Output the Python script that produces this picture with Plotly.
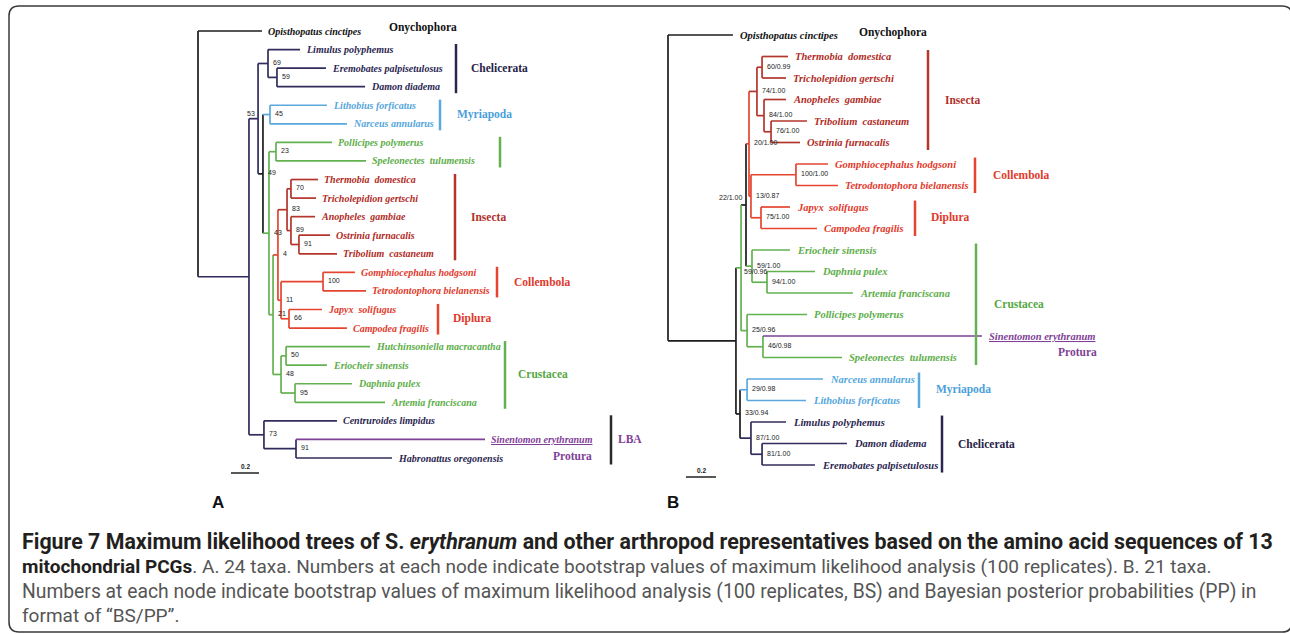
import plotly.graph_objects as go

W, H = 1290, 634

# ================= DATA =================
# ---- Tree A : 24 taxa, ML bootstrap ----
A_leaf_names = ["Opisthopatus cinctipes", "Limulus polyphemus", "Eremobates palpisetulosus", "Damon diadema",
                "Lithobius forficatus", "Narceus annularus", "Pollicipes polymerus", "Speleonectes  tulumensis",
                "Thermobia  domestica", "Tricholepidion gertschi", "Anopheles  gambiae", "Ostrinia furnacalis",
                "Tribolium  castaneum", "Gomphiocephalus hodgsoni", "Tetrodontophora bielanensis", "Japyx  solifugus",
                "Campodea fragilis", "Hutchinsoniella macracantha", "Eriocheir sinensis", "Daphnia pulex",
                "Artemia franciscana", "Centruroides limpidus", "Sinentomon erythranum", "Habronattus oregonensis"]
A_leaf_group = ["Onychophora", "Chelicerata", "Chelicerata", "Chelicerata", "Myriapoda", "Myriapoda",
                "Crustacea", "Crustacea", "Insecta", "Insecta", "Insecta", "Insecta", "Insecta",
                "Collembola", "Collembola", "Diplura", "Diplura", "Crustacea", "Crustacea", "Crustacea",
                "Crustacea", "Chelicerata", "Protura", "Chelicerata"]
# cumulative distance from root (substitutions/site)
A_leaf_depth = [0.457, 0.729, 0.914, 1.193, 0.921, 1.064, 0.957, 1.200, 0.857, 0.843, 0.836, 0.943,
                0.993, 1.121, 1.200, 0.886, 1.064, 1.229, 0.921, 1.100, 1.336, 0.993, 2.050, 1.386]

A_node_ids = ["a_root", "a_top", "a_53", "a_cheli", "a_cheli2", "a_49", "a_myr", "a_43", "a_polli", "a_21",
              "a_4", "a_ins", "a_ins1", "a_ins2", "a_ins3", "a_11", "a_coll", "a_dipl", "a_cr", "a_crA",
              "a_crB", "a_lba", "a_lba2"]
A_node_depth = [0.0, 0.364, 0.429, 0.500, 0.564, 0.464, 0.514, 0.507, 0.557, 0.536,
                0.571, 0.636, 0.664, 0.664, 0.721, 0.593, 0.893, 0.650, 0.593, 0.629,
                0.693, 0.471, 0.700]
A_node_children = [
    ["Opisthopatus cinctipes", "a_top"],
    ["a_53", "a_lba"],
    ["a_cheli", "a_49"],
    ["Limulus polyphemus", "a_cheli2"],
    ["Eremobates palpisetulosus", "Damon diadema"],
    ["a_myr", "a_43"],
    ["Lithobius forficatus", "Narceus annularus"],
    ["a_polli", "a_21"],
    ["Pollicipes polymerus", "Speleonectes  tulumensis"],
    ["a_4", "a_cr"],
    ["a_ins", "a_11"],
    ["a_ins1", "a_ins2"],
    ["Thermobia  domestica", "Tricholepidion gertschi"],
    ["Anopheles  gambiae", "a_ins3"],
    ["Ostrinia furnacalis", "Tribolium  castaneum"],
    ["a_coll", "a_dipl"],
    ["Gomphiocephalus hodgsoni", "Tetrodontophora bielanensis"],
    ["Japyx  solifugus", "Campodea fragilis"],
    ["a_crA", "a_crB"],
    ["Hutchinsoniella macracantha", "Eriocheir sinensis"],
    ["Daphnia pulex", "Artemia franciscana"],
    ["Centruroides limpidus", "a_lba2"],
    ["Sinentomon erythranum", "Habronattus oregonensis"],
]
A_node_support = ["", "", "53", "69", "59", "49", "45", "43", "23", "21", "4", "83", "70", "89", "91",
                  "11", "100", "66", "48", "50", "95", "73", "91"]
A_node_group = ["Backbone", "Chelicerata", "Chelicerata", "Chelicerata", "Chelicerata", "Backbone",
                "Myriapoda", "Crustacea", "Crustacea", "Crustacea", "Collembola", "Insecta", "Insecta",
                "Insecta", "Insecta", "Collembola", "Collembola", "Diplura", "Crustacea", "Crustacea",
                "Crustacea", "Chelicerata", "Chelicerata"]

A_clade_names = ["Chelicerata", "Myriapoda", "", "Insecta", "Collembola", "Diplura", "Crustacea", "LBA"]
A_clade_first = ["Limulus polyphemus", "Lithobius forficatus", "Pollicipes polymerus", "Thermobia  domestica",
                 "Gomphiocephalus hodgsoni", "Japyx  solifugus", "Hutchinsoniella macracantha",
                 "Centruroides limpidus"]
A_clade_last = ["Damon diadema", "Narceus annularus", "Speleonectes  tulumensis", "Tribolium  castaneum",
                "Tetrodontophora bielanensis", "Campodea fragilis", "Artemia franciscana",
                "Habronattus oregonensis"]

# ---- Tree B : 21 taxa, BS/PP ----
B_leaf_names = ["Opisthopatus cinctipes", "Thermobia  domestica", "Tricholepidion gertschi", "Anopheles  gambiae",
                "Tribolium  castaneum", "Ostrinia furnacalis", "Gomphiocephalus hodgsoni",
                "Tetrodontophora bielanensis", "Japyx  solifugus", "Campodea fragilis", "Eriocheir sinensis",
                "Daphnia pulex", "Artemia franciscana", "Pollicipes polymerus", "Sinentomon erythranum",
                "Speleonectes  tulumensis", "Narceus annularus", "Lithobius forficatus", "Limulus polyphemus",
                "Damon diadema", "Eremobates palpisetulosus"]
B_leaf_group = ["Onychophora", "Insecta", "Insecta", "Insecta", "Insecta", "Insecta", "Collembola",
                "Collembola", "Diplura", "Diplura", "Crustacea", "Crustacea", "Crustacea", "Crustacea",
                "Protura", "Crustacea", "Myriapoda", "Myriapoda", "Chelicerata", "Chelicerata", "Chelicerata"]
B_leaf_depth = [0.433, 0.800, 0.787, 0.787, 0.927, 0.880, 1.067, 1.133, 0.813, 0.993, 0.813,
                0.980, 1.233, 0.927, 2.093, 1.160, 1.033, 0.920, 0.787, 1.193, 0.980]

B_node_ids = ["b_root", "b_top", "b_59", "b_22", "b_20", "b_ins", "b_ins1", "b_ins2", "b_ins3", "b_13",
              "b_coll", "b_dipl", "b_cr", "b_cr2", "b_25", "b_46", "b_33", "b_myr", "b_ch", "b_ch2"]
B_node_depth = [0.0, 0.453, 0.487, 0.520, 0.540, 0.593, 0.627, 0.640, 0.687, 0.553,
                0.853, 0.620, 0.560, 0.660, 0.527, 0.633, 0.480, 0.527, 0.553, 0.627]
B_node_children = [
    ["Opisthopatus cinctipes", "b_top"],
    ["b_59", "b_33"],
    ["b_22", "b_25"],
    ["b_20", "b_cr"],
    ["b_ins", "b_13"],
    ["b_ins1", "b_ins2"],
    ["Thermobia  domestica", "Tricholepidion gertschi"],
    ["Anopheles  gambiae", "b_ins3"],
    ["Tribolium  castaneum", "Ostrinia furnacalis"],
    ["b_coll", "b_dipl"],
    ["Gomphiocephalus hodgsoni", "Tetrodontophora bielanensis"],
    ["Japyx  solifugus", "Campodea fragilis"],
    ["Eriocheir sinensis", "b_cr2"],
    ["Daphnia pulex", "Artemia franciscana"],
    ["Pollicipes polymerus", "b_46"],
    ["Sinentomon erythranum", "Speleonectes  tulumensis"],
    ["b_myr", "b_ch"],
    ["Narceus annularus", "Lithobius forficatus"],
    ["Limulus polyphemus", "b_ch2"],
    ["Damon diadema", "Eremobates palpisetulosus"],
]
B_node_support = ["", "", "59/0.96", "22/1.00", "20/1.00", "74/1.00", "60/0.99", "84/1.00", "76/1.00",
                  "13/0.87", "100/1.00", "75/1.00", "59/1.00", "94/1.00", "25/0.96", "46/0.98", "33/0.94",
                  "29/0.98", "87/1.00", "81/1.00"]
B_node_group = ["Backbone", "Backbone", "Crustacea", "Backbone", "Collembola", "Insecta", "Insecta",
                "Insecta", "Insecta", "Collembola", "Collembola", "Diplura", "Crustacea", "Crustacea",
                "Crustacea", "Crustacea", "Backbone", "Myriapoda", "Chelicerata", "Chelicerata"]

B_clade_names = ["Insecta", "Collembola", "Diplura", "Crustacea", "Myriapoda", "Chelicerata"]
B_clade_first = ["Thermobia  domestica", "Gomphiocephalus hodgsoni", "Japyx  solifugus", "Eriocheir sinensis",
                 "Narceus annularus", "Limulus polyphemus"]
B_clade_last = ["Ostrinia furnacalis", "Tetrodontophora bielanensis", "Campodea fragilis",
                "Speleonectes  tulumensis", "Lithobius forficatus", "Eremobates palpisetulosus"]

SCALE_BAR = 0.2

# ================= STYLE / LAYOUT =================
LINE_COL = {"Backbone": "#1c1c1c", "Onychophora": "#1c1c1c", "Chelicerata": "#302c5c", "Myriapoda": "#5aa9de",
            "Crustacea": "#64b150", "Insecta": "#b3352b", "Collembola": "#e5452f", "Diplura": "#e5452f",
            "Protura": "#7f4197"}
TEXT_COL = {"Onychophora": "#111111", "Chelicerata": "#2a2650", "Myriapoda": "#55a6dc", "Crustacea": "#5cae48",
            "Insecta": "#b02c26", "Collembola": "#df3a2c", "Diplura": "#df3a2c", "Protura": "#7f4197",
            "LBA": "#7f4197", "": "#5cae48"}
CLADE_TEXT_COL = {"Chelicerata": "#262346", "Myriapoda": "#4aa0da", "Crustacea": "#55a845",
                  "Insecta": "#b0302a", "Collembola": "#e03a2c", "Diplura": "#e03a2c", "LBA": "#7f4197",
                  "": "#55a845"}
CLADE_BAR_COL = {"Chelicerata": "#2a2650", "Myriapoda": "#5aa9de", "Crustacea": "#64b150",
                 "Insecta": "#b3352b", "Collembola": "#e5452f", "Diplura": "#e5452f", "LBA": "#2a2a2a",
                 "": "#64b150"}

# pixel geometry of each panel
A_ROOT_PX, A_PX_PER_UNIT = 198, 140.0
B_ROOT_PX, B_PX_PER_UNIT = 668, 150.0
A_ROW0_PX, A_ROWN_PX = 31, 458
B_ROW0_PX, B_ROWN_PX = 35, 465
A_CLADE_BAR_PX = {"Chelicerata": 456, "Myriapoda": 440, "": 500, "Insecta": 455, "Collembola": 497,
                  "Diplura": 438, "Crustacea": 505, "LBA": 611}
A_CLADE_TEXT_DX = {"Chelicerata": 13, "Myriapoda": 15, "": 0, "Insecta": 14, "Collembola": 15,
                   "Diplura": 13, "Crustacea": 11, "LBA": 5}
B_CLADE_BAR_PX = {"Insecta": 928, "Collembola": 975, "Diplura": 915, "Crustacea": 976, "Myriapoda": 919,
                  "Chelicerata": 942}
B_CLADE_TEXT_DX = {"Insecta": 15, "Collembola": 16, "Diplura": 14, "Crustacea": 16, "Myriapoda": 15,
                   "Chelicerata": 14}

fig = go.Figure()
annotations = []
shapes = []


def build_tree(xa, ya, leaf_names, leaf_group, leaf_depth, node_ids, node_depth, node_children,
               node_support, node_group, label_dx, leaf_size, label_special):
    depth = dict(zip(leaf_names, leaf_depth))
    depth.update(zip(node_ids, node_depth))
    group = dict(zip(leaf_names, leaf_group))
    group.update(zip(node_ids, node_group))
    row = {n: i for i, n in enumerate(leaf_names)}
    kids = dict(zip(node_ids, node_children))
    memo = {}

    def yy(n):
        if n in row:
            return row[n]
        if n not in memo:
            c = kids[n]
            memo[n] = (yy(c[0]) + yy(c[-1])) / 2.0
        return memo[n]

    segs = {}

    def add(g, xs, ys):
        col = LINE_COL[g]
        s = segs.setdefault(col, ([], []))
        s[0].extend(xs + [None])
        s[1].extend(ys + [None])

    for n in node_ids:
        c = kids[n]
        ys = [yy(k) for k in c]
        add(group[n], [depth[n], depth[n]], [min(ys), max(ys)])
        for k in c:
            add(group[k], [depth[n], depth[k]], [yy(k), yy(k)])
    for col, (xs, ys) in segs.items():
        fig.add_trace(go.Scatter(x=xs, y=ys, mode="lines", line=dict(color=col, width=1.7),
                                 xaxis=xa, yaxis=ya, hoverinfo="skip", showlegend=False))
    # leaf names
    for n, g in zip(leaf_names, leaf_group):
        txt = n.replace("  ", "\u00a0 ")
        f = dict(family="Liberation Serif, Times New Roman, serif", size=leaf_size, color=TEXT_COL[g])
        if g == "Protura":
            f["lineposition"] = "under"
        annotations.append(dict(x=depth[n], y=row[n], xref=xa, yref=ya, text="<b><i>%s</i></b>" % txt,
                                showarrow=False, xanchor="left", yanchor="middle", xshift=label_dx,
                                font=f))
    # support values
    for n, s in zip(node_ids, node_support):
        if not s:
            continue
        if n in label_special:
            xan, dx, dy = label_special[n]
        else:
            xan, dx, dy = "left", 3, 1
        annotations.append(dict(x=depth[n], y=yy(n), xref=xa, yref=ya, text=s, showarrow=False,
                                xanchor=xan, yanchor="middle", xshift=dx, yshift=dy,
                                font=dict(family="Liberation Sans, Arial, sans-serif", size=7, color="#222222")))
    return row, yy


rowA, yA = build_tree("x", "y", A_leaf_names, A_leaf_group, A_leaf_depth, A_node_ids, A_node_depth,
                      A_node_children, A_node_support, A_node_group, 4, 10,
                      {"a_53": ("right", -1, 5)})
rowB, yB = build_tree("x2", "y2", B_leaf_names, B_leaf_group, B_leaf_depth, B_node_ids, B_node_depth,
                      B_node_children, B_node_support, B_node_group, 5, 10.5,
                      {"b_22": ("right", -2, 7), "b_59": ("left", 1, -4)})

CLADE_FONT = "Liberation Serif, Times New Roman, serif"


def clades(xa, ya, names, first, last, row, bar_px, text_dx, root_px, ppu, pad_top, pad_bot):
    for nm, a, b in zip(names, first, last):
        d = (bar_px[nm] - root_px) / ppu
        r0, r1 = row[a], row[b]
        shapes.append(dict(type="line", xref=xa, yref=ya, x0=d, x1=d, y0=r0 - pad_top, y1=r1 + pad_bot,
                           line=dict(color=CLADE_BAR_COL[nm], width=2.5)))
        if nm:
            annotations.append(dict(x=d, y=(r0 + r1) / 2.0, xref=xa, yref=ya, text="<b>%s</b>" % nm,
                                    showarrow=False, xanchor="left", yanchor="middle", xshift=text_dx[nm],
                                    font=dict(family=CLADE_FONT, size=11.5, color=CLADE_TEXT_COL[nm])))


clades("x", "y", A_clade_names, A_clade_first, A_clade_last, rowA, A_CLADE_BAR_PX, A_CLADE_TEXT_DX,
       A_ROOT_PX, A_PX_PER_UNIT, 0.3, 0.35)
clades("x2", "y2", B_clade_names, B_clade_first, B_clade_last, rowB, B_CLADE_BAR_PX, B_CLADE_TEXT_DX,
       B_ROOT_PX, B_PX_PER_UNIT, 0.3, 0.35)

# extra group labels
annotations += [
    dict(x=(387 - A_ROOT_PX) / A_PX_PER_UNIT, y=0, xref="x", yref="y", text="<b>Onychophora</b>",
         showarrow=False, xanchor="left", yanchor="middle", yshift=4,
         font=dict(family=CLADE_FONT, size=11.5, color="#111111")),
    dict(x=(857 - B_ROOT_PX) / B_PX_PER_UNIT, y=0, xref="x2", yref="y2", text="<b>Onychophora</b>",
         showarrow=False, xanchor="left", yanchor="middle", yshift=3,
         font=dict(family=CLADE_FONT, size=11.5, color="#111111")),
    dict(x=(572 - A_ROOT_PX) / A_PX_PER_UNIT, y=rowA["Habronattus oregonensis"], xref="x", yref="y",
         text="<b>Protura</b>", showarrow=False, xanchor="center", yanchor="middle", yshift=2,
         font=dict(family=CLADE_FONT, size=11.5, color="#7f4197")),
    dict(x=(1077 - B_ROOT_PX) / B_PX_PER_UNIT,
         y=(rowB["Sinentomon erythranum"] + rowB["Speleonectes  tulumensis"]) / 2.0, xref="x2", yref="y2",
         text="<b>Protura</b>", showarrow=False, xanchor="center", yanchor="middle", yshift=-5,
         font=dict(family=CLADE_FONT, size=11.5, color="#7f4197")),
]

# scale bars
for xa, root_px, ppu, x0px, ypx in [("x", A_ROOT_PX, A_PX_PER_UNIT, 231, 473),
                                     ("x2", B_ROOT_PX, B_PX_PER_UNIT, 686, 477)]:
    d0 = (x0px - root_px) / ppu
    shapes.append(dict(type="line", xref=xa, yref="paper", x0=d0, x1=d0 + SCALE_BAR, y0=1 - ypx / H,
                       y1=1 - ypx / H, line=dict(color="#222222", width=1.5)))
    annotations.append(dict(x=d0 + SCALE_BAR / 2, y=1 - (ypx - 7) / H, xref=xa, yref="paper",
                            text="<b>%s</b>" % SCALE_BAR, showarrow=False, xanchor="center",
                            yanchor="middle", font=dict(family="Liberation Sans, Arial", size=6.5,
                                                        color="#222222")))

# panel letters
for letter, px, py in [("A", 218, 502), ("B", 673, 503)]:
    annotations.append(dict(x=px / W, y=1 - py / H, xref="paper", yref="paper", text="<b>%s</b>" % letter,
                            showarrow=False, xanchor="center", yanchor="middle",
                            font=dict(family="Liberation Sans, Arial", size=17, color="#111111")))

# caption
CAP_FONT = "Roboto, Liberation Sans, sans-serif"
cap_lines = [
    ("<b>Figure 7 Maximum likelihood trees of S. <i>erythranum</i> and other arthropod representatives based on the amino acid sequences of 13</b>", 541, "#231f20", 21.4),
    ("<b><span style='color:#231f20'>mitochondrial PCGs</span></b>. A. 24 taxa. Numbers at each node indicate bootstrap values of maximum likelihood analysis (100 replicates). B. 21 taxa.", 566, "#555555", 19),
    ("Numbers at each node indicate bootstrap values of maximum likelihood analysis (100 replicates, BS) and Bayesian posterior probabilities (PP) in", 591, "#555555", 19.3),
    ("format of \u201cBS/PP\u201d.", 615, "#555555", 19),
]
for txt, py, col, sz in cap_lines:
    annotations.append(dict(x=20 / W, y=1 - py / H, xref="paper", yref="paper", text=txt, showarrow=False,
                            xanchor="left", yanchor="middle",
                            font=dict(family=CAP_FONT, size=sz, color=col)))

# rounded frame (right edge falls just outside the picture)
x0, y0, x1, y1, r = 9, 6, 1292, 632, 10


def P(x, y):
    return "%.5f,%.5f" % (x / W, 1 - y / H)


shapes.append(dict(type="path", xref="paper", yref="paper",
                   path="M %s L %s Q %s %s L %s Q %s %s L %s Q %s %s L %s Q %s %s Z" % (
                       P(x0, y1 - r), P(x0, y0 + r), P(x0, y0), P(x0 + r, y0), P(x1 - r, y0), P(x1, y0),
                       P(x1, y0 + r), P(x1, y1 - r), P(x1, y1), P(x1 - r, y1), P(x0 + r, y1), P(x0, y1),
                       P(x0, y1 - r)),
                   line=dict(color="#3a3a3a", width=1.5)))

A_ppr = (A_ROWN_PX - A_ROW0_PX) / (len(A_leaf_names) - 1)
B_ppr = (B_ROWN_PX - B_ROW0_PX) / (len(B_leaf_names) - 1)
ax_off = dict(visible=False, showgrid=False, zeroline=False, fixedrange=True)
fig.update_layout(
    width=W, height=H, margin=dict(l=0, r=0, t=0, b=0), paper_bgcolor="white", plot_bgcolor="white",
    showlegend=False,
    xaxis=dict(range=[-A_ROOT_PX / A_PX_PER_UNIT, (W - A_ROOT_PX) / A_PX_PER_UNIT], domain=[0, 1], **ax_off),
    xaxis2=dict(range=[-B_ROOT_PX / B_PX_PER_UNIT, (W - B_ROOT_PX) / B_PX_PER_UNIT], domain=[0, 1],
                overlaying="x", **ax_off),
    yaxis=dict(range=[(H - A_ROW0_PX) / A_ppr, -A_ROW0_PX / A_ppr], domain=[0, 1], **ax_off),
    yaxis2=dict(range=[(H - B_ROW0_PX) / B_ppr, -B_ROW0_PX / B_ppr], domain=[0, 1], overlaying="y",
                **ax_off),
    annotations=annotations, shapes=shapes,
)
fig.write_html("out.html", config={"displayModeBar": False},
               post_script="document.body.style.margin='0';document.body.style.overflow='hidden';")
